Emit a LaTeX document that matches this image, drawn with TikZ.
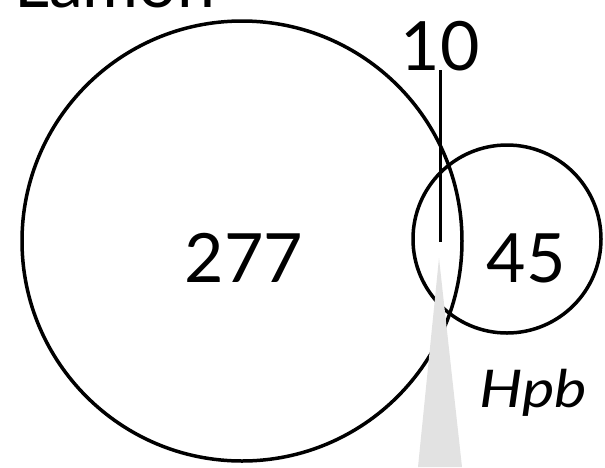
\documentclass[tikz,border=0pt]{standalone}
\usepackage{fontspec}
\setmainfont{Lato}
\definecolor{pointer}{HTML}{E2E2E2}
\begin{document}
\begin{tikzpicture}[x=1pt, y=-1pt]
    \useasboundingbox (0, 0) rectangle (605, 467);
    \begin{scope}[every node/.style={circle, draw, line width=3.5pt, inner sep=0pt}]
      \node[minimum size=440pt] (lamon) at (242, 241) {};
      \node[minimum size=188pt] (hpb) at (507, 239) {};
    \end{scope}
    \begin{scope}[every node/.style={inner sep=0pt, font=\fontsize{68}{72}\selectfont}]
      \node[anchor=base west] (lamonlab) at (14, 7) {Lamon};
      \node[anchor=base] (n277) at (244, 282) {277};
      \node[anchor=base] (n45) at (526, 282) {45};
      \node[anchor=base] (n10) at (440, 70) {10};
      \node[anchor=base west, xscale=1.18, font=\fontsize{52}{56}\selectfont\itshape] (hpblab) at (479, 407) {Hpb};
    \end{scope}

    \coordinate (tip) at (440, 242);
    \coordinate (apex) at (439, 258);
    \coordinate (baseL) at (418, 467);
    \coordinate (baseR) at (462, 467);
    \draw[line width=3pt] (n10.base) -- (tip);
    \fill[pointer] (apex) -- (baseL) -- (baseR) -- cycle;
  \end{tikzpicture}
\end{document}
